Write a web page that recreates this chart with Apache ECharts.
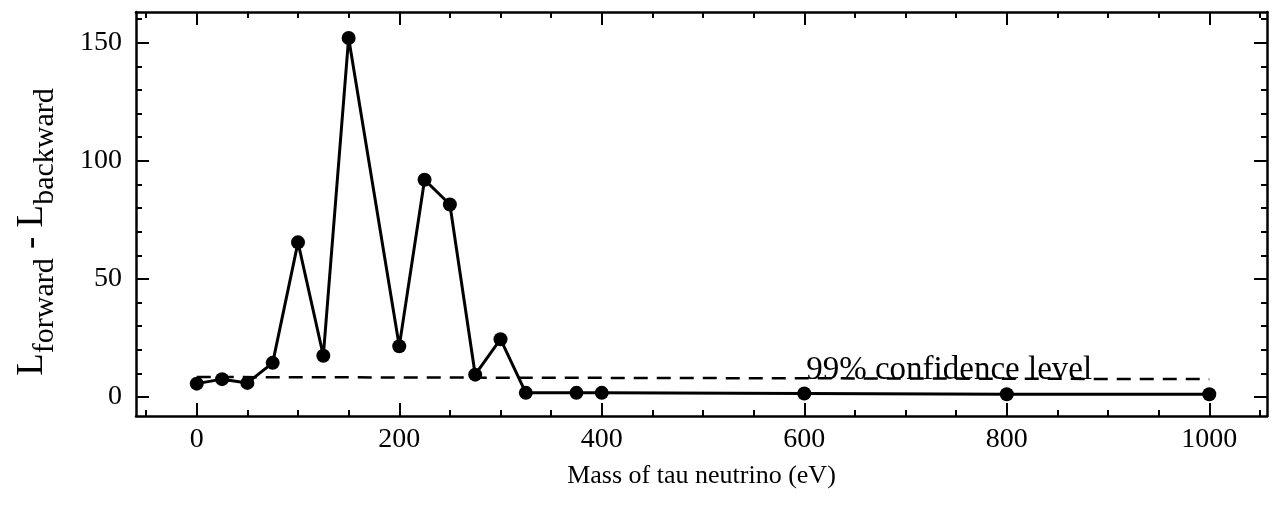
<!DOCTYPE html>
<html>
<head>
<meta charset="utf-8">
<script src="https://cdn.jsdelivr.net/npm/echarts@6/dist/echarts.min.js"></script>
<style>
  html, body { margin: 0; padding: 0; background: #ffffff; }
  #chart { width: 1277px; height: 513px; }
</style>
</head>
<body>
<div id="chart"></div>
<script>
// Likelihood difference versus assumed tau-neutrino mass
const massEV = [0, 25, 50, 75, 100, 125, 150, 200, 225, 250, 275, 300, 325, 375, 400, 600, 800, 1000];
const likelihoodDiff = [5.7, 7.6, 6.0, 14.5, 65.5, 17.5, 152, 21.5, 92, 81.5, 9.5, 24.5, 1.8, 1.8, 1.8, 1.5, 1.2, 1.2];

// 99% confidence threshold (dashed)
const confidenceMass = [0, 1000];
const confidenceLevel = [8.5, 7.6];
const confidenceText = '99% confidence level';
const confidenceTextAt = [597, 8.0];

// Axis ticks
const xMajorTicks = [0, 200, 400, 600, 800, 1000];
const xMinorTicks = [-50, 50, 100, 150, 250, 300, 350, 450, 500, 550, 650, 700, 750, 850, 900, 950, 1050];
const yMajorTicks = [0, 50, 100, 150];
const yMinorTicks = [10, 20, 30, 40, 60, 70, 80, 90, 110, 120, 130, 140, 160];

const xRange = [-60, 1057];
const yRange = [-8, 163];

const FONT = "'Liberation Serif', 'DejaVu Serif', 'Times New Roman', serif";
const INK = '#000000';
const plain = v => String(v);

function makeX(position, ticks, len, withLine, withLabels) {
  return {
    type: 'value',
    position: position,
    min: xRange[0],
    max: xRange[1],
    axisLine: { show: withLine, onZero: false, lineStyle: { color: INK, width: 2.5 } },
    axisTick: { show: true, inside: true, length: len, customValues: ticks, lineStyle: { color: INK, width: 2 } },
    axisLabel: withLabels
      ? { show: true, customValues: ticks, formatter: plain, margin: 10, color: INK, fontFamily: FONT, fontSize: 28 }
      : { show: false },
    splitLine: { show: false }
  };
}

function makeY(position, ticks, len, withLine, withLabels) {
  return {
    type: 'value',
    position: position,
    min: yRange[0],
    max: yRange[1],
    axisLine: { show: withLine, onZero: false, lineStyle: { color: INK, width: 2.5 } },
    axisTick: { show: true, inside: true, length: len, customValues: ticks, lineStyle: { color: INK, width: 2 } },
    axisLabel: withLabels
      ? { show: true, customValues: ticks, formatter: plain, margin: 14, color: INK, fontFamily: FONT, fontSize: 28 }
      : { show: false },
    splitLine: { show: false }
  };
}

const xAxes = [
  makeX('bottom', xMajorTicks, 13, true, true),
  makeX('bottom', xMinorTicks, 6, false, false),
  makeX('top', xMajorTicks, 13, true, false),
  makeX('top', xMinorTicks, 6, false, false)
];
Object.assign(xAxes[0], {
  name: 'Mass of tau neutrino (eV)',
  nameLocation: 'middle',
  nameGap: 47,
  nameTextStyle: { color: INK, fontFamily: FONT, fontSize: 26 }
});

const yAxes = [
  makeY('left', yMajorTicks, 13, true, true),
  makeY('left', yMinorTicks, 6, false, false),
  makeY('right', yMajorTicks, 13, true, false),
  makeY('right', yMinorTicks, 6, false, false)
];
Object.assign(yAxes[0], {
  name: '{L|L}{s|forward}{L| - L}{s|backward}',
  nameLocation: 'middle',
  nameGap: 84,
  nameTextStyle: {
    color: INK,
    fontFamily: FONT,
    padding: [0, 36, 0, 0],
    rich: {
      L: { fontFamily: FONT, color: INK, fontSize: 37, lineHeight: 38, verticalAlign: 'top' },
      s: { fontFamily: FONT, color: INK, fontSize: 30, lineHeight: 30, padding: [16, 0, 0, 0], verticalAlign: 'top' }
    }
  }
});

const option = {
  backgroundColor: '#ffffff',
  animation: false,
  grid: { left: 136, right: 10, top: 12, bottom: 97, outerBoundsMode: 'none' },
  xAxis: xAxes,
  yAxis: yAxes,
  series: [
    {
      type: 'line',
      xAxisIndex: 0,
      yAxisIndex: 0,
      data: confidenceMass.map((m, i) => [m, confidenceLevel[i]]),
      symbol: 'none',
      lineStyle: { color: INK, width: 2.5, type: [14, 9] },
      markPoint: {
        symbol: 'circle',
        symbolSize: 0,
        data: [{ coord: confidenceTextAt, value: 0 }],
        label: {
          show: true,
          position: 'insideBottomLeft',
          formatter: confidenceText,
          color: INK,
          fontFamily: FONT,
          fontSize: 33,
          lineHeight: 33,
          offset: [0, 14]
        }
      },
      z: 1
    },
    {
      type: 'line',
      xAxisIndex: 0,
      yAxisIndex: 0,
      data: massEV.map((m, i) => [m, likelihoodDiff[i]]),
      symbol: 'circle',
      symbolSize: 14,
      itemStyle: { color: INK, borderWidth: 0 },
      lineStyle: { color: INK, width: 3 },
      z: 3
    }
  ]
};

const chart = echarts.init(document.getElementById('chart'), null, { renderer: 'canvas' });
chart.setOption(option);
</script>
</body>
</html>
